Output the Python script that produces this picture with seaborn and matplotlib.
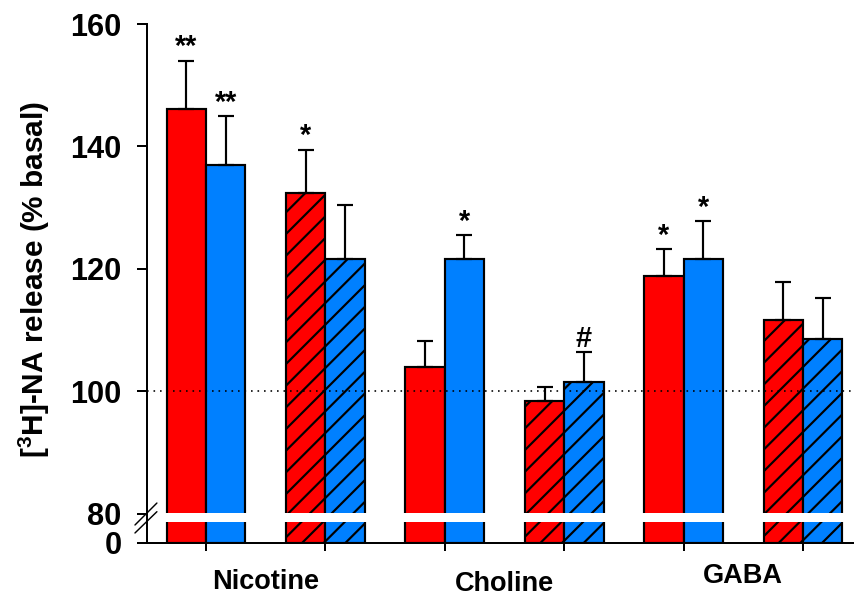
import numpy as np
import pandas as pd
import matplotlib
matplotlib.use("Agg")
import matplotlib.pyplot as plt
import matplotlib.transforms as mtransforms
import seaborn as sns

# ---- data -------------------------------------------------------------
agonists = ["Nicotine", "Choline", "GABA"]
conditions = ["I", "II"]            # solid bars, hatched bars
groups = ["Group 1", "Group 2"]     # red, blue

pair_names = [f"{a} {c}" for a in agonists for c in conditions]

red_means = [146.2, 132.4, 104.0, 98.4, 118.8, 111.7]
red_sem = [7.8, 7.1, 4.3, 2.3, 4.4, 6.2]
blue_means = [136.9, 121.7, 121.6, 101.5, 121.7, 108.5]
blue_sem = [8.0, 8.7, 3.9, 4.9, 6.1, 6.8]

red_marks = ["**", "*", "", "", "*", ""]
blue_marks = ["**", "", "*", "#", "*", ""]

y_ticks = [0, 80, 100, 120, 140, 160]

RED = "#FF0000"
BLUE = "#0080FF"

df = pd.DataFrame({
    "pair": pair_names * 2,
    "group": [groups[0]] * len(pair_names) + [groups[1]] * len(pair_names),
    "release": red_means + blue_means,
})

# ---- style ------------------------------------------------------------
sns.set_style("ticks")
plt.rcParams["font.family"] = ["Liberation Sans", "DejaVu Sans"]
plt.rcParams["font.weight"] = "bold"
plt.rcParams["mathtext.fontset"] = "custom"
plt.rcParams["mathtext.rm"] = "Liberation Sans:bold"
plt.rcParams["mathtext.bf"] = "Liberation Sans:bold"
plt.rcParams["hatch.linewidth"] = 1.2
plt.rcParams["hatch.color"] = "black"
for key in ("text.color", "axes.labelcolor", "xtick.color", "ytick.color",
            "axes.edgecolor"):
    plt.rcParams[key] = "black"

DPI = 130
fig = plt.figure(figsize=(854 / DPI, 596 / DPI), dpi=DPI)
ax = fig.add_axes([147 / 854, 53 / 596, 707 / 854, 519 / 596])

sns.barplot(data=df, x="pair", y="release", hue="group",
            order=pair_names, hue_order=groups, palette=[RED, BLUE],
            saturation=1, width=0.66, errorbar=None,
            edgecolor="black", linewidth=1.2, legend=False, ax=ax)
bar_containers = list(ax.containers)

# compressed lower segment of the y axis (0-80 squeezed below the break)
K = 0.0593


def fwd(v):
    v = np.asarray(v, dtype=float)
    return np.where(v >= 80, v, 80 - (80 - v) * K)


def inv(u):
    u = np.asarray(u, dtype=float)
    return np.where(u >= 80, u, 80 - (80 - u) / K)


ax.set_yscale("function", functions=(fwd, inv))
ax.set_ylim(0, 160)
ax.set_xlim(-0.494, 5.427)

# hatching, error bars and significance marks
sems = [red_sem, blue_sem]
marks = [red_marks, blue_marks]
for k, cont in enumerate(bar_containers):
    xs, tops = [], []
    for j, bar in enumerate(cont):
        if j % 2 == 1:
            bar.set_hatch("//")
        xs.append(bar.get_x() + bar.get_width() / 2)
        tops.append(bar.get_height())
    ax.errorbar(xs, tops, yerr=[np.zeros(len(xs)), sems[k]], fmt="none",
                ecolor="black", elinewidth=1.2, capsize=4.4, capthick=1.2,
                zorder=3)
    for x, h, s, m in zip(xs, tops, sems[k], marks[k]):
        if m:
            ax.annotate(m, xy=(x, h + s), xytext=(0, 3),
                        textcoords="offset points", ha="center",
                        va="baseline", fontsize=16, fontweight="bold")

# axis break: white band across the bars and // marks on the axis
ax.axhspan(58, 80.2, color="white", zorder=2.2, lw=0)
for y0, y1 in [(0.0347, 0.077), (0.0193, 0.0603)]:
    ax.plot([-0.017, 0.014], [y0, y1], transform=ax.transAxes,
            color="black", lw=0.8, clip_on=False, zorder=5)

# basal reference line
ax.axhline(100, color="black", lw=0.9, dashes=(1, 3), zorder=4)

# axes cosmetics
sns.despine(ax=ax)
for sp in ("left", "bottom"):
    ax.spines[sp].set_linewidth(1.1)
ax.set_yticks(y_ticks)
ax.set_yticklabels([str(t) for t in y_ticks])
ax.yaxis.set_minor_locator(matplotlib.ticker.NullLocator())
ax.tick_params(axis="y", direction="out", length=5.5, width=1.1, pad=8.6,
               labelsize=17, colors="black")
ax.set_xticks(range(len(pair_names)))
ax.set_xticklabels([])
ax.tick_params(axis="x", direction="out", length=4.5, width=1.1,
               colors="black")
ax.set_xlabel("")
ax.set_ylabel(r"[$^{\mathbf{3}}$H]-NA release (% basal)", fontsize=16.5,
              fontweight="bold", color="black")
ax.yaxis.set_label_coords(-0.135, 0.507)

# agonist names centred under each pair of bar groups
trans = mtransforms.blended_transform_factory(ax.transData, ax.transAxes)
label_y = [-0.088, -0.092, -0.078]
for i, name in enumerate(agonists):
    ax.text(2 * i + 0.5, label_y[i], name, transform=trans, ha="center",
            va="baseline", fontsize=15, fontweight="bold", color="black")

fig.savefig("out.png", dpi=DPI)
